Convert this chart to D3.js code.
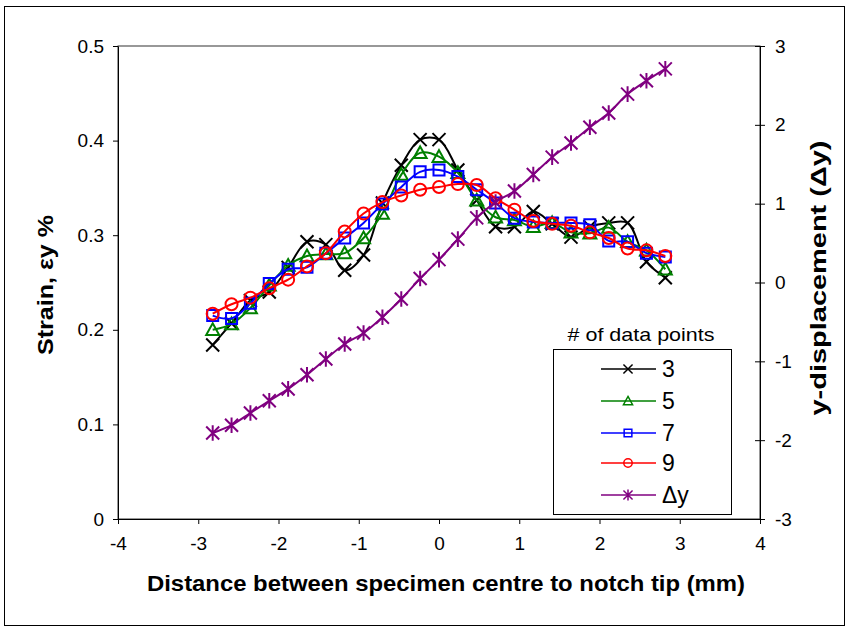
<!DOCTYPE html>
<html>
<head>
<meta charset="utf-8">
<script src="https://cdn.jsdelivr.net/npm/d3@7"></script>
<style>
  body { margin: 0; background: #fff; }
  text { font-family: Arial, "Liberation Sans", sans-serif; }
</style>
</head>
<body>
<div class="root"></div>
<script>
// distance from specimen centre (mm), same positions for every series
var xs = d3.range(25).map(function(i) { return +(-2.82 + i * 0.235).toFixed(3); });

var strain3 = [0.184, 0.207, 0.231, 0.240, 0.266, 0.293, 0.290, 0.263, 0.279, 0.334, 0.374, 0.401, 0.401,
               0.369, 0.337, 0.309, 0.309, 0.325, 0.312, 0.298, 0.309, 0.313, 0.313, 0.272, 0.255];
var strain5 = [0.200, 0.206, 0.223, 0.247, 0.268, 0.278, 0.280, 0.281, 0.297, 0.323, 0.364, 0.387, 0.383,
               0.366, 0.337, 0.319, 0.316, 0.309, 0.313, 0.303, 0.302, 0.308, 0.293, 0.284, 0.264];
var strain7 = [0.215, 0.212, 0.228, 0.249, 0.264, 0.266, 0.281, 0.297, 0.313, 0.333, 0.351, 0.367, 0.369,
               0.362, 0.348, 0.334, 0.318, 0.314, 0.313, 0.313, 0.311, 0.294, 0.293, 0.281, 0.277];
var strain9 = [0.217, 0.227, 0.234, 0.244, 0.253, 0.267, 0.281, 0.304, 0.323, 0.335, 0.342, 0.348, 0.351,
               0.354, 0.353, 0.339, 0.327, 0.315, 0.312, 0.310, 0.303, 0.297, 0.286, 0.284, 0.278];
var dispY   = [-1.91, -1.81, -1.655, -1.50, -1.35, -1.17, -0.97, -0.78, -0.64, -0.44, -0.21, 0.05, 0.29,
               0.55, 0.82, 1.02, 1.16, 1.37, 1.59, 1.77, 1.97, 2.15, 2.39, 2.56, 2.71];

var xTicks = [-4, -3, -2, -1, 0, 1, 2, 3, 4];
var yTicks = [0, 0.1, 0.2, 0.3, 0.4, 0.5];
var y2Ticks = [-3, -2, -1, 0, 1, 2, 3];
var seriesNames = ['3', '5', '7', '9', '\u0394y'];

var w = 849, h = 630;
var svg = d3.select('.root').append('svg')
  .attr('width', w)
  .attr('height', h);

svg.append('rect')
  .attr('x', 4.5).attr('y', 6.5)
  .attr('width', 840).attr('height', 619)
  .attr('fill', 'none').attr('stroke', '#000');

var x = d3.scaleLinear().domain([-4, 4]).range([118, 760]);
var y = d3.scaleLinear().domain([0, 0.5]).range([519, 46]);
var y2 = d3.scaleLinear().domain([-3, 3]).range([519, 46]);

// plot area frame
svg.append('rect')
  .attr('x', x(-4)).attr('y', y(0.5))
  .attr('width', x(4) - x(-4)).attr('height', y(0) - y(0.5))
  .attr('fill', 'none').attr('stroke', '#333');

// plain hyphen minus like the original
var intFmt = function(d) { return String(d); };
var fmt = function(d) { return d === 0 ? '0' : d.toFixed(1); };

var gy = svg.append('g').attr('transform', 'translate(' + x(-4) + ',0)')
  .call(d3.axisLeft(y).tickValues(yTicks).tickFormat(fmt).tickSize(5).tickSizeOuter(0).tickPadding(9));
var gy2 = svg.append('g').attr('transform', 'translate(' + x(4) + ',0)')
  .call(d3.axisRight(y2).tickValues(y2Ticks).tickFormat(intFmt).tickSize(5).tickSizeOuter(0).tickPadding(10));
gy2.selectAll('.tick line').attr('x1', -5);
var gx = svg.append('g').attr('transform', 'translate(0,' + y(0) + ')')
  .call(d3.axisBottom(x).tickValues(xTicks).tickFormat(intFmt).tickSize(5).tickSizeOuter(0).tickPadding(13));

[gy, gy2, gx].forEach(function(g) {
  g.selectAll('text').attr('font-size', 19).attr('fill', '#000')
    .attr('font-family', 'Arial, "Liberation Sans", sans-serif');
  g.selectAll('line, path').attr('stroke', '#000');
});

// axis titles
svg.append('text')
  .attr('x', 446).attr('y', 591)
  .attr('text-anchor', 'middle')
  .attr('font-size', 22).attr('font-weight', 'bold')
  .attr('textLength', 598).attr('lengthAdjust', 'spacingAndGlyphs')
  .text('Distance between specimen centre to notch tip (mm)');

svg.append('text')
  .attr('transform', 'translate(53,285) rotate(-90)')
  .attr('text-anchor', 'middle')
  .attr('font-size', 22).attr('font-weight', 'bold')
  .attr('textLength', 140).attr('lengthAdjust', 'spacingAndGlyphs')
  .text('Strain, \u03B5y %');

svg.append('text')
  .attr('transform', 'translate(826,278) rotate(-90)')
  .attr('text-anchor', 'middle')
  .attr('font-size', 22).attr('font-weight', 'bold')
  .attr('textLength', 275).attr('lengthAdjust', 'spacingAndGlyphs')
  .text('y-displacement (\u0394y)');

// marker drawing
function marker(g, type, color, s) {
  var p;
  if (type === 'x') {
    p = 'M' + (-s) + ',' + (-s) + 'L' + s + ',' + s + 'M' + (-s) + ',' + s + 'L' + s + ',' + (-s);
  } else if (type === 'tri') {
    p = 'M0,' + (-s) + 'L' + s + ',' + (s * 0.8) + 'L' + (-s) + ',' + (s * 0.8) + 'Z';
  } else if (type === 'sq') {
    p = 'M' + (-s) + ',' + (-s) + 'H' + s + 'V' + s + 'H' + (-s) + 'Z';
  } else if (type === 'star') {
    p = 'M' + (-s) + ',' + (-s) + 'L' + s + ',' + s + 'M' + (-s) + ',' + s + 'L' + s + ',' + (-s) +
        'M0,' + (-s * 1.2) + 'V' + (s * 1.2);
  }
  if (type === 'circ') {
    g.append('circle').attr('r', s).attr('fill', 'none').attr('stroke', color).attr('stroke-width', 2);
  } else {
    g.append('path').attr('d', p).attr('fill', 'none').attr('stroke', color).attr('stroke-width', 2);
  }
}

var series = [
  { name: seriesNames[0], vals: strain3, scale: y, color: '#000000', m: 'x', s: 6.5 },
  { name: seriesNames[1], vals: strain5, scale: y, color: '#008000', m: 'tri', s: 6.5 },
  { name: seriesNames[2], vals: strain7, scale: y, color: '#0000ff', m: 'sq', s: 5.5 },
  { name: seriesNames[3], vals: strain9, scale: y, color: '#ff0000', m: 'circ', s: 6 },
  { name: seriesNames[4], vals: dispY, scale: y2, color: '#800080', m: 'star', s: 6.5 }
];

series.forEach(function(sr) {
  var line = d3.line()
    .x(function(d, i) { return x(xs[i]); })
    .y(function(d) { return sr.scale(d); })
    .curve(d3.curveCatmullRom.alpha(0.5));
  svg.append('path')
    .datum(sr.vals)
    .attr('d', line)
    .attr('fill', 'none')
    .attr('stroke', sr.color)
    .attr('stroke-width', 2);
  svg.append('g').selectAll('g')
    .data(sr.vals)
    .enter().append('g')
      .attr('transform', function(d, i) { return 'translate(' + x(xs[i]) + ',' + sr.scale(d) + ')'; })
      .each(function() { marker(d3.select(this), sr.m, sr.color, sr.s); });
});

// legend
svg.append('text')
  .attr('x', 641).attr('y', 341)
  .attr('text-anchor', 'middle')
  .attr('font-size', 19)
  .attr('textLength', 147).attr('lengthAdjust', 'spacingAndGlyphs')
  .text('# of data points');

svg.append('rect')
  .attr('x', 553.5).attr('y', 349.5)
  .attr('width', 178).attr('height', 165)
  .attr('fill', '#fff').attr('stroke', '#000');

var rowY = [369, 401, 433, 463, 495];
series.forEach(function(sr, i) {
  var lg = svg.append('g').attr('transform', 'translate(0,' + rowY[i] + ')');
  lg.append('line')
    .attr('x1', 601).attr('x2', 656)
    .attr('stroke', sr.color).attr('stroke-width', 1.5);
  var mg = lg.append('g').attr('transform', 'translate(628,0)');
  marker(mg, sr.m, sr.color, sr.s * 0.7);
  mg.selectAll('path, circle').attr('stroke-width', 1.5);
  lg.append('text')
    .attr('x', 662).attr('y', 8)
    .attr('font-size', 23)
    .text(sr.name);
});
</script>
</body>
</html>
